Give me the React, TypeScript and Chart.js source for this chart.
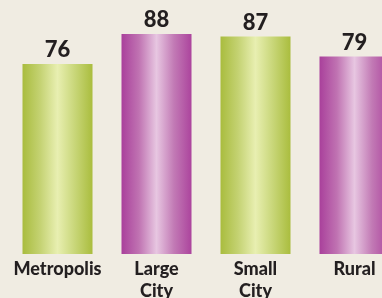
import React, { useEffect, useRef } from "react";
import { Chart, registerables } from "chart.js";

Chart.register(...registerables);

const categories: string[][] = [["Metropolis"], ["Large", "City"], ["Small", "City"], ["Rural"]];
const values: number[] = [76, 88, 87, 79];
const barKinds: string[] = ["green", "purple", "green", "purple"];

const BG = "#f0ece2";
const TEXT = "#231f20";

const palettes: Record<string, string[]> = {
  green: ["#a9bc3e", "#c4d272", "#e8efb1", "#c8d678", "#aabd3e"],
  purple: ["#a9409b", "#c073b2", "#e7c6e1", "#c27ab5", "#ac449d"],
};

const BAR_PCT = 0.707;

export default function App() {
  const ref = useRef<HTMLCanvasElement | null>(null);

  useEffect(() => {
    if (!ref.current) return;
    const valueLabels = {
      id: "valueLabels",
      afterDatasetsDraw(chart: any) {
        const ctx = chart.ctx;
        const meta = chart.getDatasetMeta(0);
        ctx.save();
        ctx.fillStyle = TEXT;
        ctx.font = "900 22px Lato";
        ctx.textAlign = "center";
        ctx.textBaseline = "alphabetic";
        meta.data.forEach((el: any, i: number) => {
          ctx.fillText(String(values[i]), el.x, el.y - 7);
        });
        ctx.restore();
      },
    };

    const chart = new Chart(ref.current, {
      type: "bar",
      data: {
        labels: categories,
        datasets: [
          {
            data: values,
            borderWidth: 0,
            barPercentage: BAR_PCT,
            categoryPercentage: 1,
            backgroundColor: (c: any) => {
              const ch = c.chart;
              const kind = barKinds[c.dataIndex] || "green";
              const pal = palettes[kind];
              const xs = ch.scales && ch.scales.x;
              if (!xs || c.dataIndex === undefined) return pal[0];
              const cx = xs.getPixelForValue(c.dataIndex);
              const w = (xs.width / categories.length) * BAR_PCT;
              if (!isFinite(cx) || !isFinite(w) || w <= 0) return pal[0];
              const g = ch.ctx.createLinearGradient(cx - w / 2, 0, cx + w / 2, 0);
              g.addColorStop(0, pal[0]);
              g.addColorStop(0.25, pal[1]);
              g.addColorStop(0.5, pal[2]);
              g.addColorStop(0.75, pal[3]);
              g.addColorStop(1, pal[4]);
              return g;
            },
          },
        ],
      },
      options: {
        animation: false,
        responsive: false,
        maintainAspectRatio: false,
        layout: { padding: { left: 8, right: 8, top: 4, bottom: 0 } },
        plugins: { legend: { display: false }, tooltip: { enabled: false } },
        scales: {
          y: { display: false, min: 0, max: 100 },
          x: {
            grid: { display: false },
            border: { display: false },
            afterFit: (s: any) => {
              s.height = 44;
            },
            ticks: {
              color: TEXT,
              font: { family: "Lato", weight: "900", size: 18, lineHeight: 1.22 },
              autoSkip: false,
              maxRotation: 0,
              minRotation: 0,
              padding: -4,
            },
          },
        },
      },
      plugins: [valueLabels],
    });
    chart.update();
    return () => chart.destroy();
  }, []);

  return (
    <div
      style={{
        position: "fixed",
        left: 0,
        top: 0,
        width: 382,
        height: 298,
        overflow: "hidden",
        background: BG,
      }}
    >
      <canvas ref={ref} width={412} height={298} style={{ display: "block", width: 412, height: 298 }} />
    </div>
  );
}
